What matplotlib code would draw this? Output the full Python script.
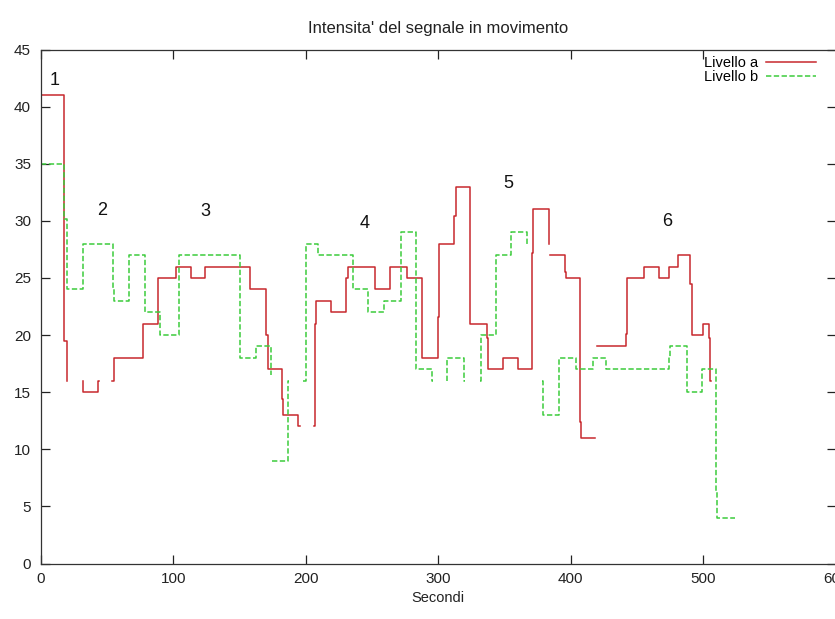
import numpy as np
import matplotlib
matplotlib.use('Agg')
import matplotlib.pyplot as plt

nan = np.nan

# ---- Livello a (red, solid): start time of each step level; nan level = gap
a_time = [0, 17.8, 19.6, 19.9,
          31.6, 31.9, 43.4, 43.9,
          54.0, 54.9, 77.4, 88.7, 102.0, 113.5, 124.0, 157.6, 170.2, 171.8,
          181.8, 183.0, 194.4, 195.3,
          206.5, 206.9, 207.6, 218.8, 230.6, 231.6, 252.2, 263.7, 276.7, 288.0,
          300.0, 300.6, 312.2, 313.4, 323.9, 336.4, 337.2, 349.0, 359.8, 370.4,
          371.2, 383.4, 383.6,
          384.3, 395.8, 396.6, 407.2, 407.8, 418.3,
          419.5, 441.8, 442.7, 455.0, 466.5, 474.3, 480.8, 490.2, 491.2, 499.6,
          504.6, 505.4, 505.8]
a_level = [41, 19.5, 16, nan,
           16, 15, 16, nan,
           16, 18, 21, 25, 26, 25, 26, 24, 20, 17,
           14.4, 13, 12, nan,
           12, 21, 23, 22, 25, 26, 24, 26, 25, 18,
           21.6, 28, 30.4, 33, 21, 19.7, 17, 18, 17, 27.2,
           31, 28, nan,
           27, 25.5, 25, 12.4, 11, nan,
           19, 20.1, 25, 26, 25, 26, 27, 24.5, 20, 21,
           19.7, 16, nan]

# ---- Livello b (green, dashed)
b_time = [0, 17.8, 19.4, 31.6, 54.2, 55.1, 66.8, 78.6, 90.0, 104.2, 150.0,
          162.7, 173.7, 174.0,
          174.8, 186.8, 187.2,
          198.2, 199.9, 209.2, 235.5, 246.8, 259.2, 271.5, 283.0, 295.5, 296.2,
          306.4, 306.9, 319.5, 320.0,
          331.6, 332.3, 343.8, 354.8, 366.8, 367.2,
          378.0, 378.9, 391.2, 403.8, 416.4, 426.4, 474.2, 474.9, 488.0, 499.3,
          509.8, 510.6, 523.7]
b_level = [35, 30.2, 24, 28, 24, 23, 27, 22, 20, 27, 18,
           19, 16.5, nan,
           9, 16, nan,
           16, 28, 27, 24, 22, 23, 29, 17, 16, nan,
           16, 18, 16, nan,
           16, 20, 27, 29, 28, nan,
           16, 13, 18, 17, 18, 17, 18.1, 19, 15, 17,
           6.3, 4, nan]

# ---- annotations (section numbers)
ann_text = ['1', '2', '3', '4', '5', '6']
ann_time = [10.8, 46.0, 124.5, 244.5, 352.5, 472.5]
ann_value = [42.3, 30.9, 30.8, 29.8, 33.3, 29.9]

x_ticks = [0, 100, 200, 300, 400, 500, 600]
y_ticks = [0, 5, 10, 15, 20, 25, 30, 35, 40, 45]

title = "Intensita' del segnale in movimento"
xlabel = "Secondi"
labels = ["Livello a", "Livello b"]

plt.rcParams['font.family'] = ['Liberation Sans', 'DejaVu Sans']

W, H = 835, 619
fig = plt.figure(figsize=(W / 100, H / 100), dpi=100)
left_px, right_px, top_px, bot_px = 40.8, 835.8, 49.5, 563.5
ax = fig.add_axes([left_px / W, 1 - bot_px / H,
                   (right_px - left_px) / W, (bot_px - top_px) / H])

red = '#c8282d'
green = '#3ccc3c'

la, = ax.plot(a_time, a_level, drawstyle='steps-post', color=red, lw=1.1,
              label=labels[0])
lb, = ax.plot(b_time, b_level, drawstyle='steps-post', color=green, lw=1.1,
              dashes=(3.5, 1.6), label=labels[1])

for t, tx, v in zip(ann_text, ann_time, ann_value):
    ax.text(tx, v, t, ha='center', va='center', fontsize=13, color='#111111')

ax.set_xlim(0, 600)
ax.set_ylim(0, 45)
ax.set_xticks(x_ticks)
ax.set_yticks(y_ticks)
ax.tick_params(direction='in', top=True, right=True, length=6.5, width=0.9,
               labelsize=11, colors='#222222')
ax.tick_params(axis='y', pad=7)
ax.tick_params(axis='x', pad=6)
for s in ax.spines.values():
    s.set_linewidth(0.9)
    s.set_color('#333333')

ax.set_xlabel(xlabel, fontsize=10.5, color='#222222', labelpad=4)
fig.text(438 / W, 1 - 28 / H, title,
         ha='center', va='center', fontsize=12, color='#222222')

leg = ax.legend(handles=[la, lb], labels=labels, loc='upper right',
                bbox_to_anchor=(816 / W, 1 - 56 / H),
                bbox_transform=fig.transFigure, frameon=False,
                markerfirst=False, fontsize=10.5, labelspacing=0.0,
                handlelength=3.4, handletextpad=0.55, borderpad=0,
                borderaxespad=0)

fig.savefig('out.png', dpi=100)
